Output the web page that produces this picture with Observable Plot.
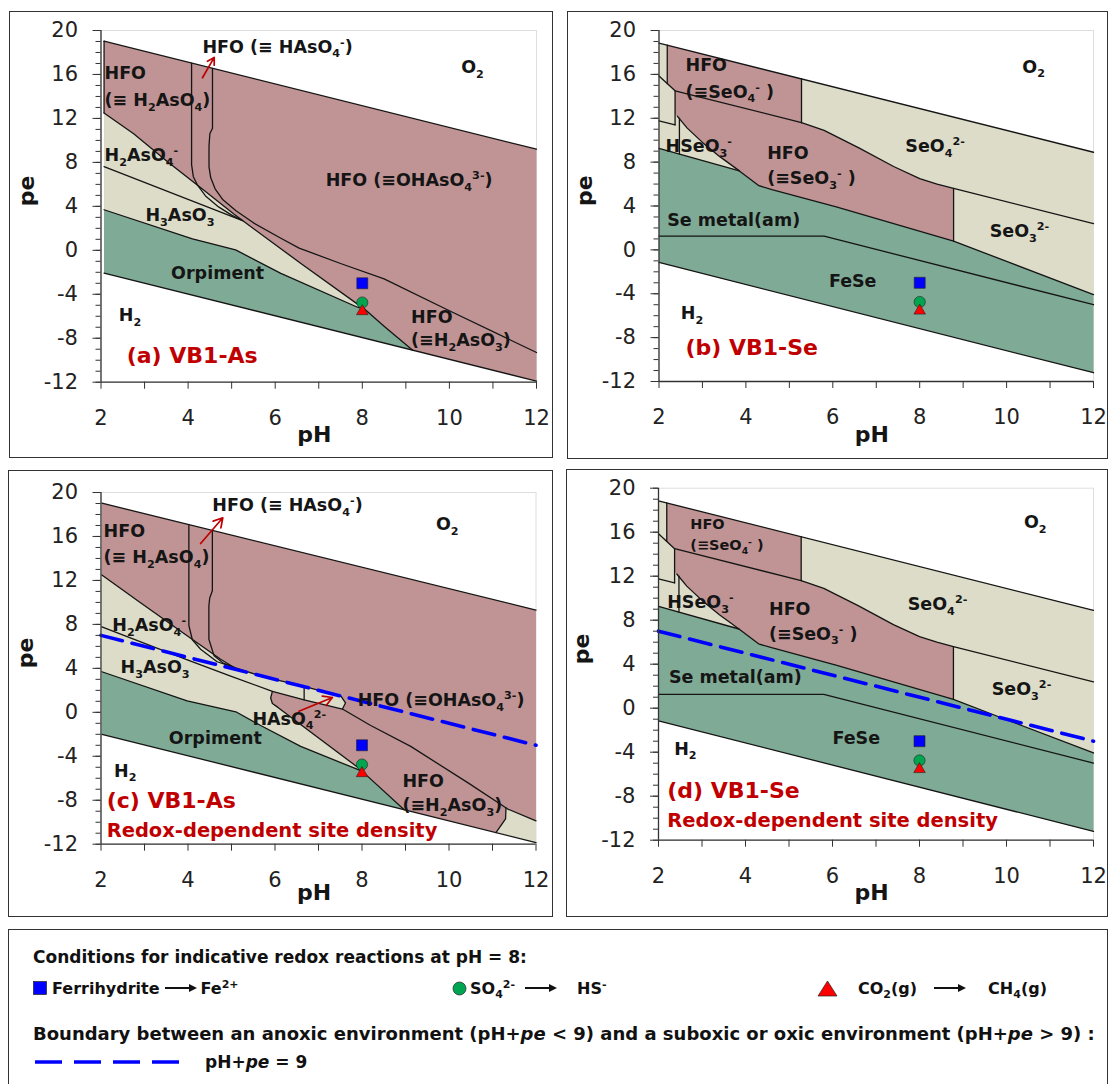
<!DOCTYPE html>
<html><head><meta charset="utf-8">
<script src="https://cdn.jsdelivr.net/npm/d3@7"></script>
<script src="https://cdn.jsdelivr.net/npm/@observablehq/plot@0.6"></script>
<style>
body{margin:0;background:#fff;}
#root{position:relative;width:1110px;height:1084px;overflow:hidden;font-family:"DejaVu Sans",sans-serif;color:#111;background:#fff;}
.box{position:absolute;border:1.5px solid #333;box-sizing:border-box;}
.lg{position:absolute;font-weight:700;font-size:17px;line-height:20px;white-space:nowrap;color:#111;}
.lg sub,.lg sup{font-size:11px;line-height:0;}
.row{position:absolute;display:flex;align-items:center;height:20px;font-weight:700;font-size:16px;white-space:nowrap;color:#111;}
.row sub,.row sup{font-size:11px;line-height:0;}
.row svg{display:block;}
</style></head><body><div id="root"></div>
<script>
// ---------- axis ticks ----------
const pHTicks = [2,3,4,5,6,7,8,9,10,11,12];
const peMajor = [-12,-8,-4,0,4,8,12,16,20];
const peMinor = [-12,-11,-10,-9,-8,-7,-6,-5,-4,-3,-2,-1,0,1,2,3,4,5,6,7,8,9,10,11,12,13,14,15,16,17,18,19,20];

// ---------- redox indicator points at pH 8 (pe values) ----------
const indicatorPH = 8;
const indicatorPe = {ferrihydrite: -3.0, sulfate: -4.75, co2: -5.55};

// ---------- anoxic / suboxic boundary pH + pe = 9 ----------
const boundaryLine = [[2,7],[12,-3]];

// ---------- Panel (a) VB1-As : [pH, pe] ----------
const a_area  = [[2.07,19.03],[12,9.2],[12,-11.9],[2.07,-2.07]];
const a_beige = [[2.07,12.5],[2.75,10.6],[3.55,8.0],[4.29,5.7],[5.05,3.3],[5.25,2.71],[6.59,-1.2],[8.05,-5.35],[7.89,-5.18],[6.13,-2.1],[5.09,0.04],[4.1,1.05],[2.07,3.69]];
const a_green = [[2.07,3.69],[4.1,1.05],[5.09,0.04],[6.13,-2.1],[7.89,-5.18],[8.05,-5.35],[8.5,-6.9],[9.15,-9.08],[2.07,-2.07]];
const a_lines = [
  [[2.07,19.03],[12,9.2]],
  [[2.07,-2.07],[12,-11.9]],
  [[2.07,19.03],[2.07,12.5]],
  [[2.07,12.5],[2.75,10.6],[3.55,8.0],[4.29,5.7],[5.05,3.3],[5.25,2.71],[6.59,-1.2],[8.05,-5.35],[8.5,-6.9],[9.15,-9.08]],
  [[2.07,7.62],[5.25,2.71]],
  [[2.07,3.69],[4.1,1.05],[5.09,0.04],[6.13,-2.1],[7.89,-5.18],[8.05,-5.35]],
  [[4.08,17.04],[4.08,7.8],[4.12,6.7],[4.22,5.9],[4.4,4.95],[4.7,3.95],[5.0,3.2],[5.25,2.71]],
  [[4.56,16.56],[4.56,11.1],[4.5,10.6],[4.48,9.5],[4.48,7.6],[4.52,6.6],[4.62,5.6],[4.8,4.6],[5.1,3.6],[5.5,2.5],[6.13,1.1],[6.55,0.2],[7.5,-1.2],[8.5,-2.6],[10,-5.5],[12,-9.3]]
];
const a_labels = [
  ["HFO (≡ HAsO_{4}^{-})",4.33,18.5],["O_{2}",10.27,16.66],["HFO",2.08,16.06],["(≡ H_{2}AsO_{4})",2.08,13.63],
  ["H_{2}AsO_{4}^{-}",2.08,8.63],["H_{3}AsO_{3}",3.02,3.17],["Orpiment",3.61,-2.14],["H_{2}",2.41,-5.93],
  ["HFO (≡OHAsO_{4}^{3-})",7.16,6.35],["HFO",9.12,-6.09],["(≡H_{2}AsO_{3})",9.12,-8.2]
];
const a_titles = [["(a) VB1-As",2.59,-9.57]];
const a_arrows = [[4.33,15.7,4.6,17.55]];

// ---------- Panels (b) and (d) VB1-Se : [pH, pe] ----------
const s_area = [[2,18.85],[12,8.9],[12,-11.2],[2,-1.15]];
const s_pinkSeO4 = [[2.19,18.66],[5.28,15.59],[5.28,11.6],[2.37,14.5],[2.19,15.16]];
const s_pinkSeO3 = [[2.37,14.5],[5.28,11.6],[5.8,10.9],[6.6,9.3],[7.4,7.6],[8.0,6.5],[8.4,6.0],[8.78,5.6],[8.78,0.8],[6.1,3.9],[4.6,5.5],[4.3,5.85],[3.85,7.2],[3.4,8.5],[3.0,9.8],[2.65,11.1],[2.42,12.2],[2.37,12.4]];
const s_green = [[2,9.25],[3.85,7.2],[4.3,5.85],[4.6,5.5],[6.1,3.9],[8.78,0.8],[10.0,-1.05],[12,-4.07],[12,-11.2],[2,-1.15]];
const s_lines = [
  [[2,18.85],[12,8.9]],
  [[2,-1.15],[12,-11.2]],
  [[2.19,18.66],[2.19,15.16]],
  [[2,15.85],[2.37,14.5],[5.28,11.6]],
  [[5.28,15.59],[5.28,11.6]],
  [[5.28,11.6],[5.8,10.9],[6.6,9.3],[7.4,7.6],[8.0,6.5],[8.4,6.0],[8.78,5.6],[12,2.4]],
  [[8.78,5.6],[8.78,0.8]],
  [[2,9.25],[3.85,7.2],[4.3,5.85],[4.6,5.5],[6.1,3.9],[8.78,0.8],[10.0,-1.05],[12,-4.07]],
  [[2.37,14.5],[2.37,11.4]],
  [[2,11.75],[2.37,11.4]],
  [[2.47,12.0],[2.47,8.73]],
  [[2.42,12.2],[2.65,11.1],[3.0,9.8],[3.4,8.5],[3.85,7.2]],
  [[2,1.25],[5.8,1.25],[12,-5.0]]
];
const b_labels = [
  ["O_{2}",10.36,16.66],["HFO",2.61,16.8],["(≡SeO_{4}^{-} )",2.61,14.4],["HSeO_{3}^{-}",2.15,9.4],
  ["HFO",4.49,8.78],["(≡SeO_{3}^{-} )",4.49,6.5],["SeO_{4}^{2-}",7.67,9.4],["SeO_{3}^{2-}",9.61,1.65],
  ["Se metal(am)",2.19,2.71],["FeSe",5.91,-2.9],["H_{2}",2.5,-5.78]
];
const b_titles = [["(b) VB1-Se",2.61,-8.97]];
const d_labels = [
  ["O_{2}",10.4,16.9],["HSeO_{3}^{-}",2.2,9.6],["HFO",4.54,9.0],["(≡SeO_{3}^{-} )",4.54,6.73],
  ["SeO_{4}^{2-}",7.73,9.45],["SeO_{3}^{2-}",9.66,1.7],["Se metal(am)",2.24,2.8],["FeSe",6.0,-2.76],["H_{2}",2.36,-3.7]
];
const d_small = [["HFO",2.73,16.7],["(≡SeO_{4}^{-} )",2.73,14.76]];
const d_titles = [["(d) VB1-Se",2.2,-7.52]];
const d_sub = [["Redox-dependent site density",2.2,-10.24]];

// ---------- Panel (c) VB1-As redox-dependent site density : [pH, pe] ----------
const c_area = [[2.02,19.03],[12,9.3],[12,-11.85],[2.02,-2.0]];
const c_pinkUpper = [[2.02,19.03],[12,9.3],[12,-9.87],[11.35,-8.8],[10.43,-6.4],[9.12,-3.1],[8.2,-1.2],[7.55,0.3],[7.62,0.85],[7.52,1.45],[6.67,2.35],[5.67,3.3],[5.06,4.08],[4.75,4.83],[3.98,6.96],[2.9,9.99],[2.02,12.5]];
const c_pinkLower = [[5.94,1.9],[6.67,1.14],[7.55,0.3],[8.2,-1.2],[9.12,-3.1],[10.43,-6.4],[11.31,-8.7],[11.3,-9.7],[11.08,-10.94],[8.97,-8.86],[8.0,-5.35],[7.9,-5.0],[6.06,0.47],[5.94,0.8],[5.9,1.3]];
const c_green = [[2.02,3.69],[3.98,1.05],[5.1,0.05],[5.67,-1.2],[6.59,-3.1],[7.9,-5.2],[8.0,-5.35],[8.97,-8.86],[2.02,-2.0]];
const c_lines = [
  [[2.02,19.03],[12,9.3]],
  [[2.02,-2.0],[12,-11.85]],
  [[2.02,12.5],[2.9,9.99],[3.98,6.96],[4.75,4.83],[5.06,4.08]],
  [[4.02,17.08],[4.02,7.9],[4.1,6.6],[4.29,5.74],[4.67,4.6],[5.06,4.08]],
  [[4.56,16.55],[4.56,11.06],[4.5,10.4],[4.48,9.7],[4.48,6.65],[4.6,5.14],[4.8,4.5],[5.06,4.08],[5.67,3.3],[6.67,2.35],[7.52,1.45]],
  [[7.52,1.45],[7.62,0.85],[7.55,0.3]],
  [[2.02,7.78],[4.0,4.75],[4.98,3.3],[5.94,1.9],[6.67,1.14],[7.55,0.3],[8.2,-1.2],[9.12,-3.1],[10.43,-6.4],[11.35,-8.8],[12,-9.87]],
  [[5.94,1.9],[5.9,1.3],[5.94,0.8],[6.06,0.47],[7.9,-5.0],[8.0,-5.35],[8.97,-8.86]],
  [[2.02,3.69],[3.98,1.05],[5.1,0.05],[5.67,-1.2],[6.59,-3.1],[7.9,-5.2],[8.0,-5.35]],
  [[11.31,-8.7],[11.3,-9.7],[11.08,-10.94]],
  [[6.67,2.33],[6.67,1.14]]
];
const c_labels = [
  ["HFO (≡ HAsO_{4}^{-})",4.56,18.79],["O_{2}",9.7,17.1],["HFO",2.06,16.5],["(≡ H_{2}AsO_{4})",2.06,14.1],
  ["H_{2}AsO_{4}^{-}",2.26,7.87],["H_{3}AsO_{3}",2.45,4.07],["Orpiment",3.56,-2.38],["H_{2}",2.3,-5.33],
  ["HAsO_{4}^{2-}",5.48,-0.6],["HFO (≡OHAsO_{4}^{3-})",7.9,1.05],["HFO",8.93,-6.24],["(≡H_{2}AsO_{3})",8.93,-8.5]
];
const c_titles = [["(c) VB1-As",2.13,-8.05]];
const c_sub = [["Redox-dependent site density",2.13,-10.8]];
const c_arrows = [[4.29,15.36,4.8,17.7],[6.55,0.1,7.32,1.35]];

// ---------- legend text ----------
const legendTitle = 'Conditions for indicative redox reactions at pH = 8:';
const legendReactions = [
  ['Ferrihydrite', 'Fe<sup>2+</sup>'],
  ['SO<sub>4</sub><sup>2-</sup>', 'HS<sup>-</sup>'],
  ['CO<sub>2</sub>(g)', 'CH<sub>4</sub>(g)']
];
const legendBoundary = 'Boundary between an anoxic environment (pH+<i>pe</i> &lt; 9) and a suboxic or oxic environment (pH+<i>pe</i> &gt; 9) :';
const legendBoundaryLabel = 'pH+<i>pe</i> = 9';

// ---------- styles ----------
const PINK = "#C09494", BEIGE = "#DCDCC8", GREEN = "#7FAA95", RED = "#C00000", INK = "#151515";
const FONT = '"DejaVu Sans", sans-serif';
const X = d => d[0], Y = d => d[1];

function richify(svg) {
  svg.querySelectorAll("text").forEach(t => {
    const s = t.textContent;
    if (!/[_^]\{/.test(s)) return;
    const fs = parseFloat(getComputedStyle(t).fontSize) || 16;
    while (t.firstChild) t.removeChild(t.firstChild);
    const re = /([_^])\{([^}]*)\}|([^_^]+)/g;
    let m, cur = 0;
    while ((m = re.exec(s))) {
      const ts = document.createElementNS("http://www.w3.org/2000/svg", "tspan");
      let target = 0, txt;
      if (m[1]) { txt = m[2]; target = m[1] === "_" ? 0.27 * fs : -0.4 * fs; ts.setAttribute("font-size", (0.64 * fs) + "px"); }
      else { txt = m[3]; }
      if (target !== cur) ts.setAttribute("dy", target - cur);
      cur = target;
      ts.textContent = txt;
      t.appendChild(ts);
    }
  });
}

function panel(cfg) {
  const marks = [];
  marks.push(Plot.frame({stroke: "#dedede", strokeWidth: 1}));
  marks.push(Plot.line(cfg.area, {x: X, y: Y, fill: cfg.baseFill, stroke: "none"}));
  for (const [poly, fill] of cfg.fills) marks.push(Plot.line(poly, {x: X, y: Y, fill, stroke: "none"}));
  for (const l of cfg.lines) marks.push(Plot.line(l, {x: X, y: Y, stroke: INK, strokeWidth: 1.3}));
  if (cfg.dash) marks.push(Plot.line(boundaryLine, {x: X, y: Y, stroke: "#0000FF", strokeWidth: 3.6, strokeDasharray: "22,10"}));
  // axes
  marks.push(Plot.axisY(peMinor, {tickSize: 5, tickFormat: () => "", stroke: "#333", label: null}));
  marks.push(Plot.axisY(peMajor, {tickSize: 8, tickPadding: 15, tickFormat: d => String(d), stroke: "#333", fontSize: 21, label: null}));
  marks.push(Plot.axisX(pHTicks, {tickSize: 7, tickPadding: 21, tickFormat: d => d % 2 === 0 ? String(d) : "", stroke: "#333", fontSize: 21, label: null}));
  marks.push(Plot.ruleX([2], {y1: -12, y2: 20, stroke: "#333", strokeWidth: 1.3}));
  marks.push(Plot.ruleY([-12], {x1: 2, x2: 12, stroke: "#333", strokeWidth: 1.3}));
  marks.push(Plot.text(["pe"], {frameAnchor: "left", dx: cfg.peDx, rotate: -90, fontSize: 22, fontWeight: "bold", fill: INK}));
  marks.push(Plot.text(["pH"], {x: () => 6.9, frameAnchor: "bottom", dy: cfg.pHDy, fontSize: 22, fontWeight: "bold", fill: INK}));
  // indicator markers
  marks.push(Plot.dot([indicatorPe.ferrihydrite], {x: () => indicatorPH, y: d => d, symbol: "square", r: 6.2, fill: "#0000FF", stroke: "#222", strokeWidth: 0.6}));
  marks.push(Plot.dot([indicatorPe.sulfate], {x: () => indicatorPH, y: d => d, symbol: "circle", r: 5.6, fill: "#00A550", stroke: "#222", strokeWidth: 0.6}));
  marks.push(Plot.dot([indicatorPe.co2], {x: () => indicatorPH, y: d => d, symbol: "triangle", r: 4.3, fill: "#FF0000", stroke: "#222", strokeWidth: 0.6}));
  // labels
  const T = (arr, size, fill) => Plot.text(arr, {x: d => d[1], y: d => d[2], text: d => d[0], textAnchor: "start", lineAnchor: "middle", fontSize: size, fontWeight: "bold", fill});
  marks.push(T(cfg.labels, 17.5, INK));
  if (cfg.small) marks.push(T(cfg.small, 14.5, INK));
  marks.push(T(cfg.titles, 22, RED));
  if (cfg.sub) marks.push(T(cfg.sub, 19.5, RED));
  if (cfg.arrows) marks.push(Plot.arrow(cfg.arrows, {x1: d => d[0], y1: d => d[1], x2: d => d[2], y2: d => d[3], stroke: RED, strokeWidth: 1.7, headLength: 9}));
  const svg = Plot.plot({
    width: cfg.w, height: cfg.h,
    marginLeft: cfg.m[0], marginRight: cfg.m[1], marginTop: cfg.m[2], marginBottom: cfg.m[3],
    x: {domain: [2, 12]}, y: {domain: [-12, 20]},
    style: {fontFamily: FONT, fontSize: "21px", color: "#222", background: "transparent", overflow: "visible"},
    marks
  });
  svg.style.position = "absolute";
  svg.style.left = cfg.left + "px";
  svg.style.top = cfg.top + "px";
  const box = document.createElement("div");
  box.className = "box";
  Object.assign(box.style, {left: cfg.box[0] + "px", top: cfg.box[1] + "px", width: cfg.box[2] + "px", height: cfg.box[3] + "px"});
  root.appendChild(box);
  root.appendChild(svg);
  richify(svg);
}

const root = document.getElementById("root");

panel({left: 9, top: 11, w: 544, h: 447, m: [91.5, 17, 19, 76.3], box: [9, 11, 544, 447],
  area: a_area, baseFill: PINK, fills: [[a_beige, BEIGE], [a_green, GREEN]], lines: a_lines,
  labels: a_labels, titles: a_titles, arrows: a_arrows, peDx: -74, pHDy: 60});

panel({left: 567, top: 11, w: 541, h: 448, m: [91.5, 15, 19, 78], box: [567, 11, 541, 448],
  area: s_area, baseFill: BEIGE, fills: [[s_pinkSeO4, PINK], [s_pinkSeO3, PINK], [s_green, GREEN]], lines: s_lines,
  labels: b_labels, titles: b_titles, peDx: -74, pHDy: 60});

panel({left: 8, top: 470, w: 545, h: 447, m: [92.5, 17.5, 22, 73.3], box: [8, 470, 545, 447],
  area: c_area, baseFill: BEIGE, fills: [[c_pinkUpper, PINK], [c_pinkLower, PINK], [c_green, GREEN]], lines: c_lines, dash: true,
  labels: c_labels, titles: c_titles, sub: c_sub, arrows: c_arrows, peDx: -75, pHDy: 56});

panel({left: 566, top: 469, w: 542, h: 448, m: [92, 15, 18.7, 77.3], box: [566, 469, 542, 448],
  area: s_area, baseFill: BEIGE, fills: [[s_pinkSeO4, PINK], [s_pinkSeO3, PINK], [s_green, GREEN]], lines: s_lines, dash: true,
  labels: d_labels, small: d_small, titles: d_titles, sub: d_sub, peDx: -77, pHDy: 60});

// ---------- legend ----------
const legend = document.createElement("div");
legend.className = "box";
Object.assign(legend.style, {left: "8px", top: "929px", width: "1100px", height: "170px"});
root.appendChild(legend);

function addText(cls, left, top, html, size) {
  const d = document.createElement("div");
  d.className = cls;
  d.style.left = left + "px"; d.style.top = top + "px";
  if (size) d.style.fontSize = size + "px";
  d.innerHTML = html;
  root.appendChild(d);
}
addText("lg", 33, 947, legendTitle, 17);
addText("lg", 33, 1024, legendBoundary, 18);
addText("lg", 205, 1052, legendBoundaryLabel, 17);

const arrowSvg = w => '<svg width="' + w + '" height="10"><line x1="0" y1="5" x2="' + (w - 7) + '" y2="5" stroke="#111" stroke-width="2"/><polygon points="' + (w - 8) + ',1 ' + w + ',5 ' + (w - 8) + ',9" fill="#111"/></svg>';
const swatches = [
  '<svg width="14" height="14"><rect x="0.5" y="0.5" width="13" height="13" fill="#0000FF" stroke="#222" stroke-width="0.7"/></svg>',
  '<svg width="15" height="15"><circle cx="7.5" cy="7.5" r="6.5" fill="#00A550" stroke="#222" stroke-width="0.7"/></svg>',
  '<svg width="21" height="17"><polygon points="10.5,1 20,16 1,16" fill="#FF0000" stroke="#222" stroke-width="0.7"/></svg>'
];
const groupLeft = [33, 452, 817];
const groupGaps = [[5, 5, 4], [3, 10, 20], [20, 17, 22]];
legendReactions.forEach(([from, to], i) => {
  const g = groupGaps[i];
  const html = swatches[i] +
    '<span style="margin-left:' + g[0] + 'px">' + from + '</span>' +
    '<span style="margin-left:' + g[1] + 'px;display:block">' + arrowSvg(32) + '</span>' +
    '<span style="margin-left:' + g[2] + 'px">' + to + '</span>';
  addText("row", groupLeft[i], 978, html);
});
const dashDiv = document.createElement("div");
dashDiv.innerHTML = '<svg style="position:absolute;left:33px;top:1057px" width="150" height="10"><line x1="2" y1="5" x2="148" y2="5" stroke="#0000FF" stroke-width="3.6" stroke-dasharray="27,12"/></svg>';
root.appendChild(dashDiv);
</script></body></html>
